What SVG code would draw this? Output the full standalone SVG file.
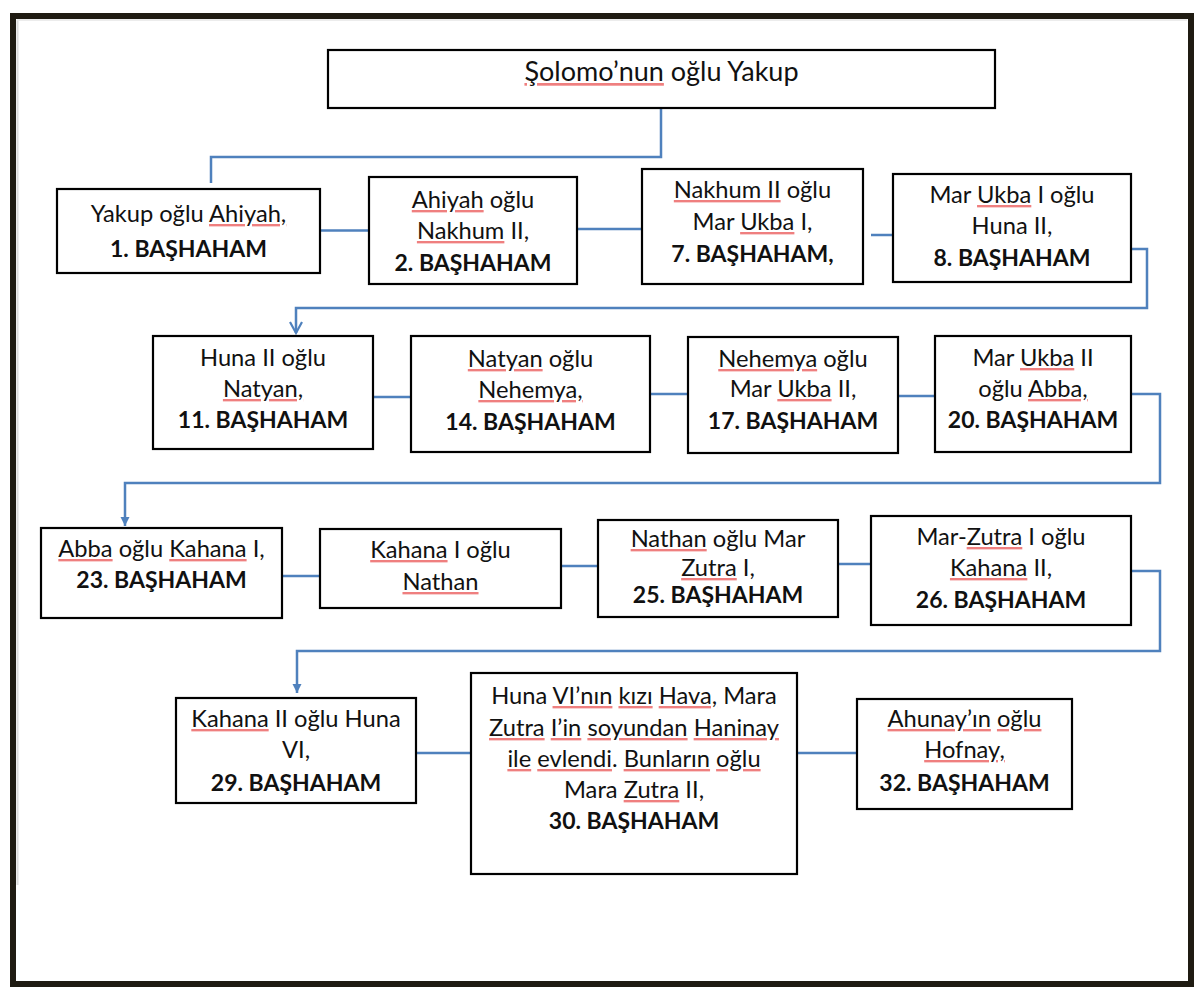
<svg xmlns="http://www.w3.org/2000/svg" width="1202" height="994" viewBox="0 0 1202 994">
<style>
.box{fill:#fff;stroke:#000;stroke-width:2.2}
.t{font-family:Lato,"Liberation Sans",sans-serif;font-size:23.7px;fill:#111;text-anchor:middle}
.b{font-weight:bold;font-size:23px}
.sp{text-decoration:underline;fill:#e84848;fill-opacity:0.7;text-decoration-thickness:1px;text-underline-offset:3px}
.w{fill:#111;fill-opacity:1}
.c{fill:none;stroke:#4f81bd;stroke-width:2.5}
</style>
<defs>
<marker id="open" markerUnits="userSpaceOnUse" markerWidth="16" markerHeight="16" refX="12" refY="7" orient="auto">
<path d="M1,1 L12,7 L1,13" fill="none" stroke="#4f81bd" stroke-width="2.2"/>
</marker>
<marker id="fill" markerUnits="userSpaceOnUse" markerWidth="12" markerHeight="12" refX="9" refY="5" orient="auto">
<path d="M0,0.5 L9,5 L0,9.5 Z" fill="#4f81bd"/>
</marker>
</defs>
<rect x="0" y="0" width="1202" height="994" fill="#fff"/>
<path d="M17.5,20 V885" stroke="#dcdcdc" stroke-width="2" fill="none"/>
<path d="M17,20 H1187" stroke="#e6e6e6" stroke-width="1.5" fill="none"/>
<rect x="13" y="16" width="1178" height="968" fill="none" stroke="#1f1b12" stroke-width="6"/>

<g id="connectors">
<path class="c" d="M661,108 V157 H211 V183"/>
<path class="c" d="M320,230.5 H369"/>
<path class="c" d="M577,229 H642"/>
<path class="c" d="M871,235 H893"/>
<path class="c" d="M1131,249 H1147 V308 H296 V333" marker-end="url(#open)"/>
<path class="c" d="M373,397 H411"/>
<path class="c" d="M650,394 H688"/>
<path class="c" d="M898,396 H935"/>
<path class="c" d="M1131,394 H1160 V483 H125 V526" marker-end="url(#fill)"/>
<path class="c" d="M282,576 H321"/>
<path class="c" d="M561,566 H598"/>
<path class="c" d="M838,564 H871"/>
<path class="c" d="M1131,571 H1160 V651 H297 V693" marker-end="url(#fill)"/>
<path class="c" d="M416,753 H471"/>
<path class="c" d="M797,753 H857"/>
</g>

<g id="n0">
<rect class="box" x="328" y="50" width="667" height="58"/>
<text class="t" style="font-size:27px" x="661.5" y="81"><tspan class="sp"><tspan class="w">Şolomo’nun</tspan></tspan> oğlu Yakup</text>
</g>

<g id="n1">
<rect class="box" x="57" y="189" width="263" height="84"/>
<text class="t"><tspan x="188.5" y="222">Yakup oğlu <tspan class="sp"><tspan class="w">Ahiyah,</tspan></tspan></tspan><tspan class="b" x="188.5" y="257">1. BAŞHAHAM</tspan></text>
</g>

<g id="n2">
<rect class="box" x="369" y="177" width="208" height="107"/>
<text class="t"><tspan x="473" y="208"><tspan class="sp"><tspan class="w">Ahiyah</tspan></tspan> oğlu</tspan><tspan x="473" y="239"><tspan class="sp"><tspan class="w">Nakhum</tspan></tspan> II,</tspan><tspan class="b" x="473" y="271">2. BAŞHAHAM</tspan></text>
</g>

<g id="n3">
<rect class="box" x="642" y="169" width="221" height="115"/>
<text class="t"><tspan x="752.5" y="198"><tspan class="sp"><tspan class="w">Nakhum II</tspan></tspan> oğlu</tspan><tspan x="752.5" y="230">Mar <tspan class="sp"><tspan class="w">Ukba</tspan></tspan> I,</tspan><tspan class="b" x="752.5" y="262">7. BAŞHAHAM,</tspan></text>
</g>

<g id="n4">
<rect class="box" x="893" y="174" width="238" height="108"/>
<text class="t"><tspan x="1012" y="203">Mar <tspan class="sp"><tspan class="w">Ukba</tspan></tspan> I oğlu</tspan><tspan x="1012" y="234">Huna II,</tspan><tspan class="b" x="1012" y="266">8. BAŞHAHAM</tspan></text>
</g>

<g id="n5">
<rect class="box" x="153" y="336" width="220" height="113"/>
<text class="t"><tspan x="263" y="366">Huna II oğlu</tspan><tspan x="263" y="397"><tspan class="sp"><tspan class="w">Natyan,</tspan></tspan></tspan><tspan class="b" x="263" y="428">11. BAŞHAHAM</tspan></text>
</g>

<g id="n6">
<rect class="box" x="411" y="336" width="239" height="116"/>
<text class="t"><tspan x="530.5" y="367"><tspan class="sp"><tspan class="w">Natyan</tspan></tspan> oğlu</tspan><tspan x="530.5" y="398"><tspan class="sp"><tspan class="w">Nehemya,</tspan></tspan></tspan><tspan class="b" x="530.5" y="430">14. BAŞHAHAM</tspan></text>
</g>

<g id="n7">
<rect class="box" x="688" y="337" width="210" height="116"/>
<text class="t"><tspan x="793" y="367"><tspan class="sp"><tspan class="w">Nehemya</tspan></tspan> oğlu</tspan><tspan x="793" y="397">Mar <tspan class="sp"><tspan class="w">Ukba</tspan></tspan> II,</tspan><tspan class="b" x="793" y="429">17. BAŞHAHAM</tspan></text>
</g>

<g id="n8">
<rect class="box" x="935" y="336" width="196" height="116"/>
<text class="t"><tspan x="1033" y="366">Mar <tspan class="sp"><tspan class="w">Ukba</tspan></tspan> II</tspan><tspan x="1033" y="397">oğlu <tspan class="sp"><tspan class="w">Abba,</tspan></tspan></tspan><tspan class="b" x="1033" y="428">20. BAŞHAHAM</tspan></text>
</g>

<g id="n9">
<rect class="box" x="41" y="528" width="241" height="90"/>
<text class="t"><tspan x="161.5" y="557"><tspan class="sp"><tspan class="w">Abba</tspan></tspan> oğlu <tspan class="sp"><tspan class="w">Kahana</tspan></tspan> I,</tspan><tspan class="b" x="161.5" y="588">23. BAŞHAHAM</tspan></text>
</g>

<g id="n10">
<rect class="box" x="320" y="529" width="241" height="79"/>
<text class="t"><tspan x="440.5" y="558"><tspan class="sp"><tspan class="w">Kahana</tspan></tspan> I oğlu</tspan><tspan x="440.5" y="590"><tspan class="sp"><tspan class="w">Nathan</tspan></tspan></tspan></text>
</g>

<g id="n11">
<rect class="box" x="598" y="520" width="240" height="97"/>
<text class="t"><tspan x="718" y="547"><tspan class="sp"><tspan class="w">Nathan</tspan></tspan> oğlu Mar</tspan><tspan x="718" y="576"><tspan class="sp"><tspan class="w">Zutra</tspan></tspan> I,</tspan><tspan class="b" x="718" y="603">25. BAŞHAHAM</tspan></text>
</g>

<g id="n12">
<rect class="box" x="871" y="516" width="260" height="109"/>
<text class="t"><tspan x="1001" y="545">Mar-<tspan class="sp"><tspan class="w">Zutra</tspan></tspan> I oğlu</tspan><tspan x="1001" y="576"><tspan class="sp"><tspan class="w">Kahana</tspan></tspan> II,</tspan><tspan class="b" x="1001" y="608">26. BAŞHAHAM</tspan></text>
</g>

<g id="n13">
<rect class="box" x="176" y="698" width="240" height="105"/>
<text class="t"><tspan x="296" y="727"><tspan class="sp"><tspan class="w">Kahana</tspan></tspan> II oğlu Huna</tspan><tspan x="296" y="758">VI,</tspan><tspan class="b" x="296" y="791">29. BAŞHAHAM</tspan></text>
</g>

<g id="n14">
<rect class="box" x="471" y="673" width="326" height="201"/>
<text class="t"><tspan x="634" y="704">Huna <tspan class="sp"><tspan class="w">VI’nın</tspan></tspan> <tspan class="sp"><tspan class="w">kızı</tspan></tspan> <tspan class="sp"><tspan class="w">Hava,</tspan></tspan> Mara</tspan><tspan x="634" y="736"><tspan class="sp"><tspan class="w">Zutra</tspan></tspan> <tspan class="sp"><tspan class="w">I’in</tspan></tspan> <tspan class="sp"><tspan class="w">soyundan</tspan></tspan> <tspan class="sp"><tspan class="w">Haninay</tspan></tspan></tspan><tspan x="634" y="767"><tspan class="sp"><tspan class="w">ile</tspan></tspan> <tspan class="sp"><tspan class="w">evlendi</tspan></tspan>. <tspan class="sp"><tspan class="w">Bunların</tspan></tspan> <tspan class="sp"><tspan class="w">oğlu</tspan></tspan></tspan><tspan x="634" y="798">Mara <tspan class="sp"><tspan class="w">Zutra</tspan></tspan> II,</tspan><tspan class="b" x="634" y="829">30. BAŞHAHAM</tspan></text>
</g>

<g id="n15">
<rect class="box" x="857" y="699" width="215" height="110"/>
<text class="t"><tspan x="964.5" y="727"><tspan class="sp"><tspan class="w">Ahunay’ın</tspan></tspan> <tspan class="sp"><tspan class="w">oğlu</tspan></tspan></tspan><tspan x="964.5" y="758"><tspan class="sp"><tspan class="w">Hofnay,</tspan></tspan></tspan><tspan class="b" x="964.5" y="791">32. BAŞHAHAM</tspan></text>
</g>
</svg>
